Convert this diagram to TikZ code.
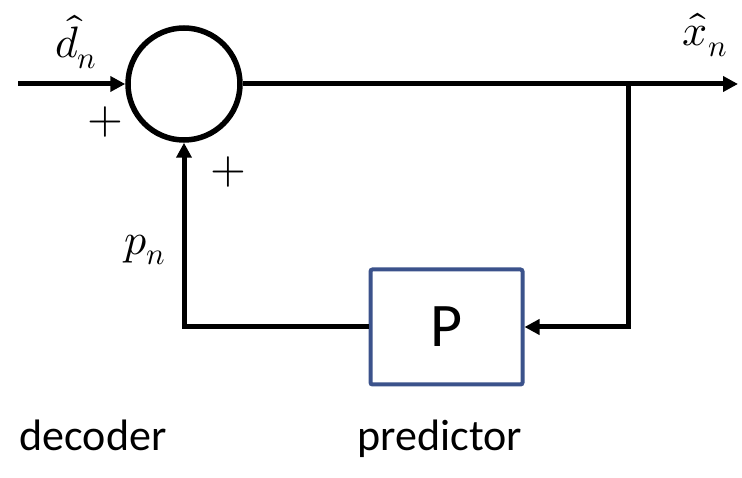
\documentclass[tikz,border=0pt]{standalone}
\usepackage{fontspec}
\usepackage{unicode-math}
\setmainfont{Carlito}
\setmathfont{Latin Modern Math}
\usetikzlibrary{arrows.meta}
\definecolor{boxblue}{RGB}{59,82,139}
\begin{document}
\begin{tikzpicture}[x=1pt,y=-1pt,
  conn/.style={line width=5pt,-{Triangle[length=15pt,width=15pt]}},
  mathlab/.style={inner sep=0pt,font=\fontsize{44}{48}\selectfont},
  pluslab/.style={inner sep=0pt,font=\fontsize{46}{50}\selectfont},
  caption/.style={inner sep=0pt,anchor=base,font=\fontsize{44}{50}\selectfont}]
\useasboundingbox (0,0) rectangle (742,478);
\node[circle,draw,line width=5.5pt,minimum size=112pt,inner sep=0pt] (sum) at (184,84) {};
\node[draw=boxblue,line width=4pt,rounded corners=2pt,minimum width=152pt,minimum height=115pt,inner sep=0pt,
  font=\fontsize{62}{62}\selectfont] (P) at (446.5,327) {P};
\coordinate (in) at (18,84);
\coordinate (out) at (738,84);
\coordinate (br) at (628,84);
\draw[conn] (in) -- (sum.west);
\draw[conn] (sum.east) -- (out);
\draw[conn] (br) |- (P.east);
\draw[conn] (P.west) -| (sum.south);
\node[mathlab] (dlab) at (76,42) {$\hat{d}_n$};
\node[mathlab] (xlab) at (705,35) {$\hat{x}_n$};
\node[mathlab] (plab) at (145,250) {$p_n$};
\node[pluslab] (plus1) at (105,122) {$+$};
\node[pluslab] (plus2) at (228,172) {$+$};
\node[caption] (dec) at (93,450) {decoder};
\node[caption] (pred) at (440,450) {predictor};
\end{tikzpicture}
\end{document}
